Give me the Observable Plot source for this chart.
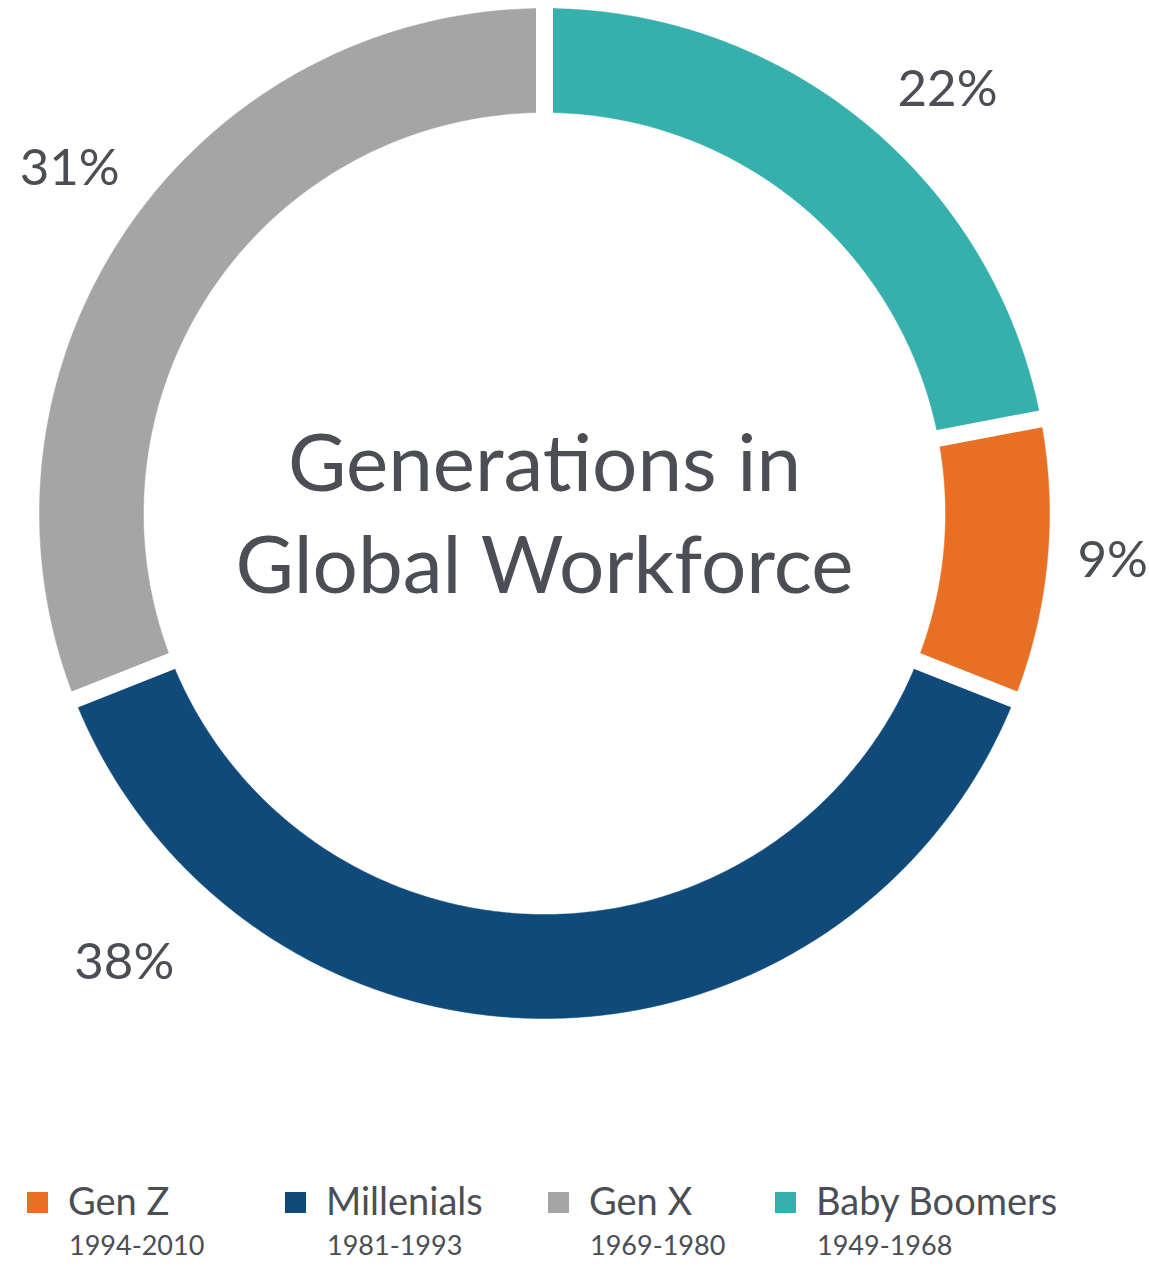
<!DOCTYPE html>
<html>
<head>
<meta charset="utf-8">
<script src="https://cdn.jsdelivr.net/npm/d3@7"></script>
<script src="https://cdn.jsdelivr.net/npm/@observablehq/plot@0.6"></script>
<style>
  body { margin: 0; background: #fff; font-family: Lato, "Open Sans", sans-serif; color: #4b4e55; }
  #chart svg { display: block; }
  .legend { position: relative; height: 134px; }
  .item { position: absolute; top: 0; }
  .sw { position: absolute; width: 21px; height: 21px; top: 57px; }
  .name { position: absolute; top: 42px; font-size: 38px; white-space: nowrap; }
  .years { position: absolute; top: 93px; font-size: 27px; white-space: nowrap; }
</style>
</head>
<body>
<div id="chart"></div>
<div class="legend" id="legend"></div>
<script>
// ---- data (clockwise from 12 o'clock) ----
const categories = ["Baby Boomers", "Gen Z", "Millenials", "Gen X"];
const shares = [22, 9, 38, 31];
const years = ["1949-1968", "1994-2010", "1981-1993", "1969-1980"];
const colors = ["#35b0ac", "#e87024", "#0f4a7a", "#a5a5a5"];
const legendOrder = ["Gen Z", "Millenials", "Gen X", "Baby Boomers"];
// where each percentage label sits: fraction along its slice, and distance from centre (outer radius = 1)
const labelFraction = [0.55, 0.48, 0.815, 0.516];
const labelRadius = [1.158, 1.129, 1.218, 1.162];
const title = "Generations in\nGlobal Workforce";

// ---- geometry ----
const W = 1150, H = 1135;
const cx = 544, cy = 513, R = 505;   // pixel placement of the ring
const inner = 401 / R;               // inner radius in unit of outer radius

const pie = d3.pie().sort(null).value(d => d)(shares);
const rows = pie.map((p, i) => ({
  name: categories[i], share: shares[i], color: colors[i],
  a0: p.startAngle, a1: p.endAngle
}));

function ringPoints(r) {
  const n = Math.max(8, Math.ceil((r.a1 - r.a0) / 0.01));
  const pts = [];
  for (let k = 0; k <= n; k++) {
    const a = r.a0 + (r.a1 - r.a0) * k / n;
    pts.push({x: Math.sin(a), y: Math.cos(a)});
  }
  for (let k = n; k >= 0; k--) {
    const a = r.a0 + (r.a1 - r.a0) * k / n;
    pts.push({x: inner * Math.sin(a), y: inner * Math.cos(a)});
  }
  return pts;
}

const boundaries = rows.map(r => r.a0);
const labels = rows.map((r, i) => {
  const a = r.a0 + (r.a1 - r.a0) * labelFraction[i];
  return {text: r.share + "%", x: labelRadius[i] * Math.sin(a), y: labelRadius[i] * Math.cos(a)};
});

const slices = rows.map(r => Plot.line(ringPoints(r), {x: "x", y: "y", fill: r.color, stroke: r.color, strokeWidth: 0.5}));

const plot = Plot.plot({
  width: W, height: H,
  margin: 0,
  x: {domain: [-cx / R, (W - cx) / R], range: [0, W], axis: null},
  y: {domain: [-(H - cy) / R, cy / R], range: [H, 0], axis: null},
  style: {background: "#fff", fontFamily: "Lato, 'Open Sans', sans-serif"},
  marks: [
    ...slices,
    Plot.link(boundaries, {
      x1: a => 0.7 * Math.sin(a), y1: a => 0.7 * Math.cos(a),
      x2: a => 1.08 * Math.sin(a), y2: a => 1.08 * Math.cos(a),
      stroke: "#fff", strokeWidth: 17
    }),
    Plot.text(labels, {x: "x", y: "y", text: "text", fontSize: 51, fill: "#4b4e55"}),
    Plot.text([title], {x: () => 0, y: () => 0, text: d => d, fontSize: 80, lineHeight: 1.27, dy: -4, fill: "#4b4e55"})
  ]
});
document.getElementById("chart").append(plot);

// ---- legend ----
const legendX = [27, 285, 548, 775];
const lg = document.getElementById("legend");
legendOrder.forEach((name, j) => {
  const i = categories.indexOf(name);
  const it = document.createElement("div");
  it.className = "item";
  it.style.left = legendX[j] + "px";
  it.innerHTML = `<div class="sw" style="background:${colors[i]}"></div>
    <div class="name" style="left:41px">${name}</div>
    <div class="years" style="left:42px">${years[i]}</div>`;
  lg.append(it);
});
</script>
</body>
</html>
